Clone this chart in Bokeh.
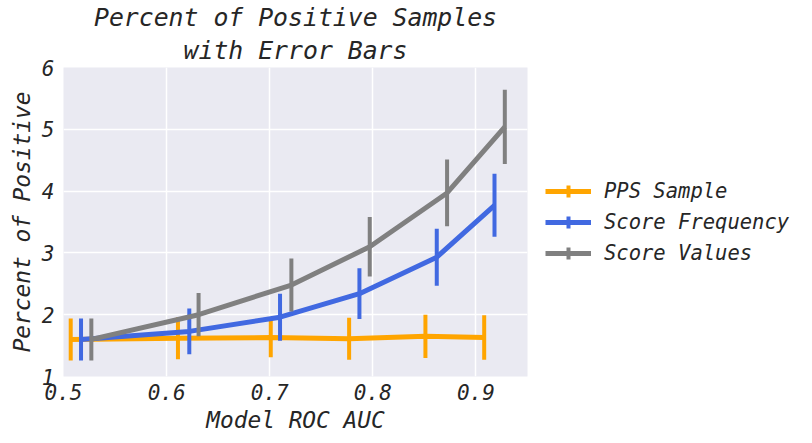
import math
from bokeh.plotting import figure
from bokeh.models import Legend, LegendItem, FixedTicker, ColumnDataSource, Title
from bokeh.embed import file_html
from bokeh.resources import INLINE

# ---- data ----
series_names = ["PPS Sample", "Score Frequency", "Score Values"]
pps_x = [0.507, 0.611, 0.701, 0.777, 0.851, 0.908]
pps_y = [1.60, 1.62, 1.63, 1.61, 1.65, 1.63]
pps_err = [0.34, 0.34, 0.32, 0.34, 0.35, 0.36]

freq_x = [0.517, 0.622, 0.710, 0.787, 0.862, 0.918]
freq_y = [1.60, 1.73, 1.96, 2.34, 2.93, 3.77]
freq_err = [0.34, 0.37, 0.38, 0.41, 0.46, 0.51]

val_x = [0.527, 0.631, 0.721, 0.797, 0.872, 0.928]
val_y = [1.60, 2.00, 2.48, 3.10, 3.97, 5.04]
val_err = [0.34, 0.35, 0.43, 0.48, 0.54, 0.60]

x_ticks = [0.5, 0.6, 0.7, 0.8, 0.9]
y_ticks = [1, 2, 3, 4, 5, 6]
title_lines = ["Percent of Positive Samples", "with Error Bars"]

colors = ["#FFA500", "#4169E1", "#808080"]
FONT = "DejaVu Sans Mono"
TXT = "#262626"

p = figure(frame_width=464, frame_height=309, output_backend="svg", toolbar_location=None,
           x_range=(0.5, 0.95), y_range=(1, 6),
           min_border_left=63, min_border_top=64, min_border_bottom=56, min_border_right=275,
           title=title_lines[0])
p.background_fill_color = "#EAEAF2"
p.border_fill_color = "white"
p.outline_line_color = None

def style_title(t):
    t.text_font = FONT
    t.text_font_style = "italic"
    t.text_font_size = "24.8px"
    t.text_color = TXT
    t.align = "center"
    t.standoff = 0
    t.offset = 0

style_title(p.title)
t2 = Title(text=title_lines[1])
style_title(t2)
t2.standoff = 5
p.add_layout(t2, "above")

for ax in (p.xaxis[0], p.yaxis[0]):
    ax.axis_line_color = None
    ax.major_tick_line_color = None
    ax.minor_tick_line_color = None
    ax.major_tick_out = 0
    ax.major_tick_in = 0
    ax.minor_tick_out = 0
    ax.minor_tick_in = 0
    ax.major_label_text_font = FONT
    ax.major_label_text_font_style = "italic"
    ax.major_label_text_font_size = "21px"
    ax.major_label_text_color = TXT
    ax.axis_label_text_font = FONT
    ax.axis_label_text_font_style = "italic"
    ax.axis_label_text_font_size = "22.8px"
    ax.axis_label_text_color = TXT

p.xaxis.ticker = FixedTicker(ticks=x_ticks)
p.yaxis.ticker = FixedTicker(ticks=y_ticks)
p.xaxis.axis_label = "Model ROC AUC"
p.yaxis.axis_label = "Percent of Positive"
p.xaxis.major_label_standoff = 7
p.yaxis.major_label_standoff = 9
p.xaxis.axis_label_standoff = 4
p.yaxis.axis_label_standoff = 4

p.xgrid.grid_line_color = "white"
p.ygrid.grid_line_color = "white"
p.xgrid.grid_line_width = 1.5
p.ygrid.grid_line_width = 1.5

items = []
for name, xs, ys, es, c in zip(series_names,
                               [pps_x, freq_x, val_x],
                               [pps_y, freq_y, val_y],
                               [pps_err, freq_err, val_err], colors):
    src = ColumnDataSource(dict(x=xs, y=ys,
                                lo=[y - e for y, e in zip(ys, es)],
                                hi=[y + e for y, e in zip(ys, es)]))
    ln = p.line("x", "y", source=src, line_color=c, line_width=5)
    # zero-size marker: invisible on the plot, draws the error-bar tick in the legend
    mk = p.scatter("x", "y", source=src, marker="cross", size=0,
                   line_color=c, line_width=4)
    sg = p.segment(x0="x", y0="lo", x1="x", y1="hi", source=src, line_color=c, line_width=4)
    items.append(LegendItem(label=name, renderers=[ln, mk]))

legend = Legend(items=items, location="center_left")
legend.glyph_width = 46
legend.glyph_height = 30
legend.spacing = 1
legend.label_standoff = 13
legend.padding = 0
legend.margin = 18
legend.border_line_color = None
legend.background_fill_alpha = 0
legend.label_text_font = FONT
legend.label_text_font_style = "italic"
legend.label_text_font_size = "20.5px"
legend.label_text_color = TXT
p.add_layout(legend, "right")

open("out.html", "w").write(file_html(p, INLINE))
